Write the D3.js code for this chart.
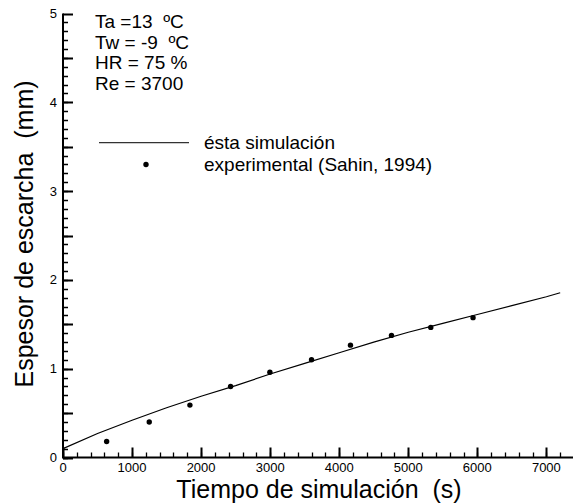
<html>
<head>
<meta charset="utf-8">
<style>
  body {
    margin: 0;
    background: #fff;
    font-family: 'Liberation Sans', Arial, Helvetica, sans-serif;
  }
</style>
</head>
<body>
<script src="https://cdn.jsdelivr.net/npm/d3@7/dist/d3.min.js"></script>
<script>

var width = 573;
var height = 504;
var fontFamily = "'Liberation Sans', Arial, Helvetica, sans-serif";

// simulated frost thickness (mm) vs time (s)
var simTime = [0, 500, 1000, 1500, 2000, 2500, 3000, 3500, 4000, 4500, 5000, 5500, 6000, 6500, 7000, 7200];
var simThickness = [0.10, 0.27, 0.42, 0.56, 0.69, 0.81, 0.94, 1.06, 1.18, 1.30, 1.41, 1.51, 1.61, 1.71, 1.81, 1.855];

// experimental points (Sahin, 1994)
var expTime = [632, 1249, 1838, 2427, 2996, 3599, 4163, 4757, 5326, 5938];
var expThickness = [0.18, 0.40, 0.59, 0.80, 0.96, 1.10, 1.265, 1.375, 1.465, 1.575];

var xMajorTicks = [0, 1000, 2000, 3000, 4000, 5000, 6000, 7000];
var yLabelTicks = [0, 1, 2, 3, 4, 5];

var conditions = ['Ta =13\u00a0 ºC', 'Tw = -9\u00a0 ºC', 'HR = 75 %', 'Re = 3700'];
var legendLabels = ['ésta simulación', 'experimental (Sahin, 1994)'];

var xTitle = 'Tiempo de simulación\u00a0 (s)';
var yTitle = 'Espesor de escarcha\u00a0 (mm)';

var svg = d3.select('body').append('svg')
  .attr('width', width)
  .attr('height', height)
  .attr('font-family', fontFamily);

var x = d3.scaleLinear().domain([0, 7400]).range([63, 574]);
var y = d3.scaleLinear().domain([0, 5]).range([457.5, 13.5]);

var x0 = x(0);
var y0 = y(0);

// tick marks built from the scales, one path per tick family
function tickPath (values, pos, len, horizontal) {
  return values.map(function (v) {
    var p = Math.round(pos(v)) + 0.5;
    return horizontal
      ? 'M' + x0 + ',' + p + 'h' + len
      : 'M' + p + ',' + y0 + 'v' + (-len);
  }).join('');
}

var xMinorVals = d3.range(0, 7201, 200);
var yMinorVals = d3.range(0, 50).map(function (i) { return i / 10; });
var yHalfVals = d3.range(0, 11).map(function (i) { return i / 2; });

svg.append('path')
  .attr('d', tickPath(xMinorVals, x, 5, false) + tickPath(yMinorVals, y, 5, true))
  .attr('fill', 'none')
  .attr('stroke', '#000')
  .attr('stroke-width', 1.3);

svg.append('path')
  .attr('d', tickPath(xMajorTicks, x, 10, false) + tickPath(yHalfVals, y, 10, true))
  .attr('fill', 'none')
  .attr('stroke', '#000')
  .attr('stroke-width', 2);

// axis lines
svg.append('path')
  .attr('d', 'M' + x0 + ',' + y(5) + 'V' + y0 + 'H' + x.range()[1])
  .attr('fill', 'none')
  .attr('stroke', '#000')
  .attr('stroke-width', 2);

// tick labels
svg.selectAll('text.xlab')
  .data(xMajorTicks)
  .enter().append('text')
  .attr('class', 'xlab')
  .attr('x', function (d) { return x(d); })
  .attr('y', y0 + 14)
  .attr('text-anchor', 'middle')
  .attr('font-size', 13)
  .attr('fill', '#000')
  .text(function (d) { return d; });

svg.selectAll('text.ylab')
  .data(yLabelTicks)
  .enter().append('text')
  .attr('class', 'ylab')
  .attr('x', x0 - 6)
  .attr('y', function (d) { return y(d) + 4.5; })
  .attr('text-anchor', 'end')
  .attr('font-size', 13)
  .attr('fill', '#000')
  .text(function (d) { return d; });

// simulation curve
var line = d3.line()
  .x(function (d, i) { return x(simTime[i]); })
  .y(function (d) { return y(d); });

svg.append('path')
  .datum(simThickness)
  .attr('d', line)
  .attr('fill', 'none')
  .attr('stroke', '#000')
  .attr('stroke-width', 1.2);

// experimental points
svg.selectAll('circle.exp')
  .data(expThickness)
  .enter().append('circle')
  .attr('class', 'exp')
  .attr('cx', function (d, i) { return x(expTime[i]); })
  .attr('cy', function (d) { return y(d); })
  .attr('r', 2.7)
  .attr('fill', '#000');

// conditions text
svg.selectAll('text.cond')
  .data(conditions)
  .enter().append('text')
  .attr('class', 'cond')
  .attr('x', 95)
  .attr('y', function (d, i) { return 28 + i * 20.7; })
  .attr('font-size', 19)
  .attr('fill', '#000')
  .text(function (d) { return d; });

// legend
svg.append('line')
  .attr('x1', 99).attr('x2', 189)
  .attr('y1', 142.7).attr('y2', 142.7)
  .attr('stroke', '#333')
  .attr('stroke-width', 1.2);

svg.append('circle')
  .attr('cx', 146).attr('cy', 164.5)
  .attr('r', 2.7)
  .attr('fill', '#000');

svg.selectAll('text.legend')
  .data(legendLabels)
  .enter().append('text')
  .attr('class', 'legend')
  .attr('x', 204)
  .attr('y', function (d, i) { return 149 + i * 22; })
  .attr('font-size', 19)
  .attr('fill', '#000')
  .text(function (d) { return d; });

// axis titles
svg.append('text')
  .attr('x', 319)
  .attr('y', 497.5)
  .attr('text-anchor', 'middle')
  .attr('font-size', 25)
  .attr('fill', '#000')
  .text(xTitle);

svg.append('text')
  .attr('transform', 'translate(33,234) rotate(-90)')
  .attr('text-anchor', 'middle')
  .attr('font-size', 25)
  .attr('fill', '#000')
  .text(yTitle);

</script>
</body>
</html>
